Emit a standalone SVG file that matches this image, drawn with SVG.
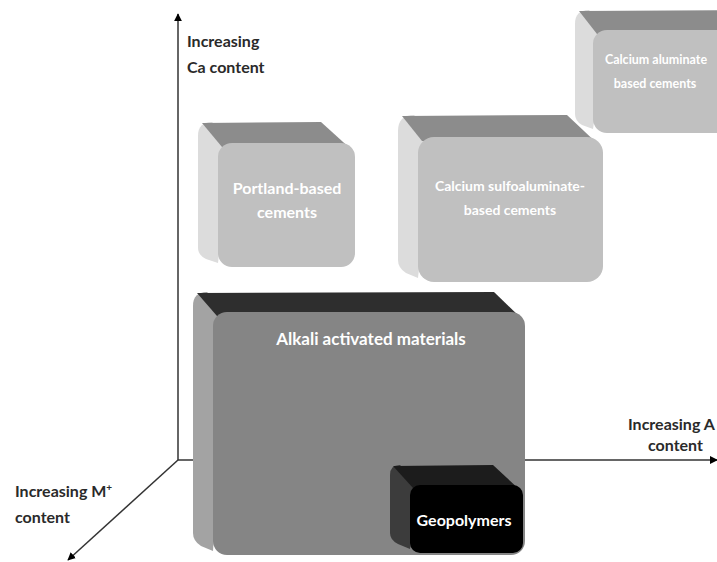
<svg xmlns="http://www.w3.org/2000/svg" width="717" height="562" viewBox="0 0 717 562">
<style>
.axis{stroke:#333;stroke-width:1.5;fill:none}
.lbl{font-family:Lato,"Liberation Sans",sans-serif;font-size:16px;fill:#2a2a2a;font-weight:bold}
.bt{font-family:Lato,"Liberation Sans",sans-serif;fill:#fff;text-anchor:middle;font-weight:bold}
.lt .side{fill:#dcdcdc}.lt .top{fill:#8c8c8c}.lt .front{fill:#c0c0c0}
.al .side{fill:#a3a3a3}.al .top{fill:#2e2e2e}.al .front{fill:#858585}
.gp .side{fill:#3c3c3c}.gp .top{fill:#1c1c1c}.gp .front{fill:#000}
</style>
<defs>
<marker id="ah" viewBox="0 0 10 10" refX="9" refY="5" markerWidth="8" markerHeight="8" orient="auto-start-reverse" markerUnits="userSpaceOnUse">
<path d="M0,0 L10,5 L0,10 z" fill="#000"/>
</marker>
</defs>
<rect width="717" height="562" fill="#fff"/>
<g id="connectors">
<line class="axis" x1="178" y1="460" x2="178" y2="14" marker-end="url(#ah)"/>
<line class="axis" x1="178" y1="460" x2="717" y2="460" marker-end="url(#ah)"/>
<line class="axis" x1="178" y1="460" x2="68" y2="560" marker-end="url(#ah)"/>
</g>
<g id="axis-labels">
<text class="lbl" x="187" y="47">Increasing</text>
<text class="lbl" x="187" y="73">Ca content</text>
<text class="lbl" x="15" y="497">Increasing M<tspan font-size="10" dy="-6">+</tspan></text>
<text class="lbl" x="15" y="523">content</text>
<text class="lbl" x="628" y="430">Increasing A</text>
<text class="lbl" x="648" y="451">content</text>
</g>
<g id="calcium-aluminate" class="lt">
<path class="side" d="M575,24 Q575,10 589,10 L607,30 L593,129 L582,125 Q575,121 575,114 Z"/>
<path class="top" d="M579,11 L740,10 L740,40 L597,34 Z"/>
<rect class="front" x="593" y="30" width="160" height="103" rx="14"/>
<text class="bt" font-size="12.5" font-weight="normal" x="656" y="64">Calcium aluminate</text>
<text class="bt" font-size="12.5" font-weight="normal" x="655" y="88">based cements</text>
</g>
<g id="portland" class="lt">
<path class="side" d="M198,136 Q198,122 212,122 L232,143 L218,263 L206,259 Q198,255 198,248 Z"/>
<path class="top" d="M202,123 L321,122 L353,151 L222,147 Z"/>
<rect class="front" x="218" y="143" width="137" height="124" rx="14"/>
<text class="bt" font-size="16" x="287" y="194">Portland-based</text>
<text class="bt" font-size="16" x="287" y="218">cements</text>
</g>
<g id="calcium-sulfoaluminate" class="lt">
<path class="side" d="M398,131 Q398,115 414,115 L434,137 L418,278 L406,273 Q398,268 398,260 Z"/>
<path class="top" d="M402,116 L567,115 L601,147 L422,141 Z"/>
<rect class="front" x="418" y="137" width="185" height="145" rx="16"/>
<text class="bt" font-size="14" x="510" y="191">Calcium sulfoaluminate-</text>
<text class="bt" font-size="14" x="510" y="215">based cements</text>
</g>
<g id="alkali" class="al">
<path class="side" d="M193,306 Q193,292 207,292 L227,312 L213,551 L201,546 Q193,541 193,533 Z"/>
<path class="top" d="M197,293 L494,292 L523,320 L217,316 Z"/>
<rect class="front" x="213" y="312" width="312" height="243" rx="14"/>
<text class="bt" font-size="17" x="371" y="345">Alkali activated materials</text>
</g>
<g id="geopolymers" class="gp">
<path class="side" d="M390,475 Q390,465 400,465 L420,485 L410,549 L398,544 Q390,540 390,533 Z"/>
<path class="top" d="M393,466 L493,465 L521,491 L413,488 Z"/>
<rect class="front" x="410" y="485" width="113" height="68" rx="10"/>
<text class="bt" font-size="16" font-weight="normal" x="464" y="526">Geopolymers</text>
</g>
</svg>
